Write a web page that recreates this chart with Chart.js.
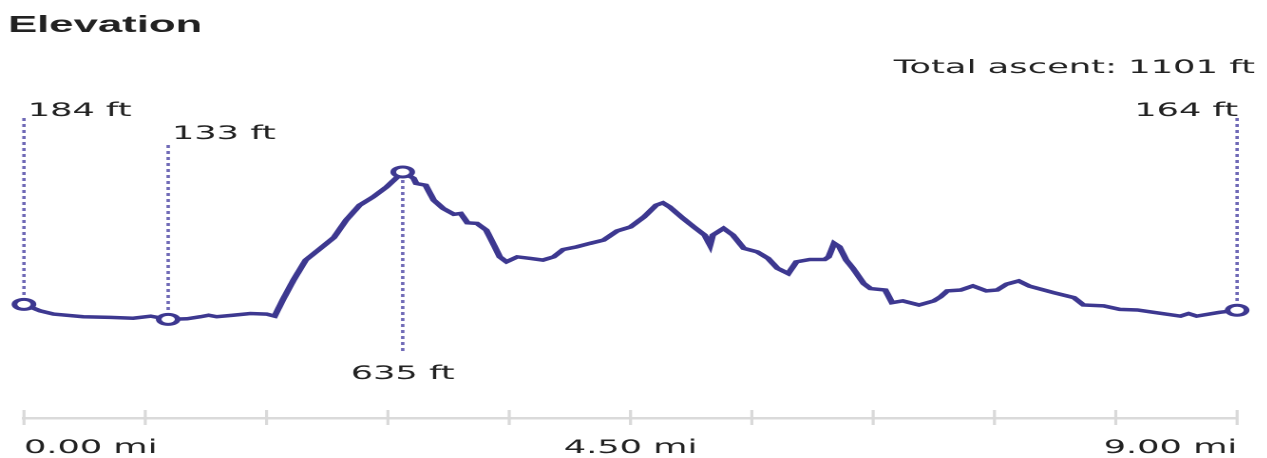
<!DOCTYPE html>
<html><head><meta charset="utf-8">
<script src="https://cdn.jsdelivr.net/npm/chart.js@4.4.1/dist/chart.umd.min.js"></script>
<style>
html,body{margin:0;padding:0;background:#fff;overflow:hidden;width:1267px;height:458px;}
#wrap{position:absolute;left:0;top:0;width:667px;height:458px;transform:scaleX(1.9);transform-origin:0 0;}
</style></head><body>
<div id="wrap"><canvas id="c"></canvas></div>
<script>
const titleText = 'Elevation';
const ascentText = 'Total ascent: 1101 ft';
const distanceMi = [0,0.12,0.22,0.44,0.64,0.81,0.94,1.07,1.21,1.31,
  1.37,1.43,1.55,1.68,1.80,1.86,1.92,2.00,2.09,2.20,
  2.30,2.39,2.49,2.59,2.69,2.81,2.89,2.91,2.98,3.04,
  3.11,3.19,3.24,3.29,3.36,3.43,3.48,3.53,3.58,3.66,
  3.75,3.85,3.93,4.00,4.10,4.20,4.30,4.40,4.50,4.60,
  4.69,4.74,4.79,4.89,4.97,5.05,5.09,5.11,5.19,5.26,
  5.34,5.44,5.52,5.59,5.67,5.73,5.83,5.94,5.97,6.01,
  6.05,6.10,6.15,6.23,6.28,6.39,6.44,6.52,6.64,6.75,
  6.80,6.85,6.95,7.04,7.14,7.22,7.29,7.38,7.46,7.64,
  7.79,7.86,8.01,8.13,8.26,8.38,8.58,8.64,8.70,8.87,9.00];
const elevationFt = [184,162,151,142,140,137,144,133,135,142,
  147,142,147,153,151,144,199,267,335,375,
  412,471,522,550,584,635,614,596,590,539,
  511,491,494,462,460,437,392,346,329,346,
  341,335,346,371,380,392,403,434,448,482,
  522,530,516,477,448,420,386,420,443,420,
  375,363,341,307,289,329,337,337,346,392,
  380,335,307,255,238,233,190,196,182,196,
  210,230,233,247,230,233,253,264,246,224,
  207,182,179,167,165,157,144,153,144,157,164];
const xTickLabelValues = [0, 4.5, 9];
const xTickStep = 0.9;

const lineColor = '#3d3890';
const dotColor = '#6f69b6';
const textColor = '#222';
const labelFont = '18.5px "DejaVu Sans"';

const lastIdx = elevationFt.length - 1;
let minIdx = 0, maxIdx = 0;
elevationFt.forEach((v, i) => { if (v < elevationFt[minIdx]) minIdx = i; if (v > elevationFt[maxIdx]) maxIdx = i; });
const marks = [
  {index: 0, align: 'left', labelY: 111, lineTop: 118},
  {index: minIdx, align: 'left', labelY: 134, lineTop: 145},
  {index: maxIdx, align: 'center', labelY: 374, below: true, lineBottom: 353},
  {index: lastIdx, align: 'right', labelY: 111, lineTop: 118}
];
const markSet = new Set(marks.map(m => m.index));

const markerPlugin = {
  id: 'markers',
  beforeDatasetsDraw(chart) {
    const ctx = chart.ctx;
    const meta = chart.getDatasetMeta(0);
    ctx.save();
    ctx.strokeStyle = dotColor;
    ctx.lineWidth = 1.8;
    ctx.setLineDash([3, 3]);
    marks.forEach(m => {
      const p = meta.data[m.index];
      ctx.beginPath();
      if (m.below) { ctx.moveTo(p.x, p.y + 8); ctx.lineTo(p.x, m.lineBottom); }
      else { ctx.moveTo(p.x, m.lineTop); ctx.lineTo(p.x, p.y - 7); }
      ctx.stroke();
    });
    ctx.restore();
  },
  afterDatasetsDraw(chart) {
    const ctx = chart.ctx;
    const meta = chart.getDatasetMeta(0);
    ctx.save();
    ctx.font = labelFont;
    ctx.fillStyle = textColor;
    ctx.textBaseline = 'middle';
    marks.forEach(m => {
      const p = meta.data[m.index];
      ctx.textAlign = m.align;
      let x = p.x;
      if (m.align === 'left') x += 2;
      if (m.align === 'right') x += 0.5;
      ctx.fillText(elevationFt[m.index] + ' ft', x, m.labelY);
    });
    ctx.restore();
  },
  afterDraw(chart) {
    const ctx = chart.ctx;
    const xs = chart.scales.x;
    const b = chart.chartArea.bottom;
    ctx.save();
    ctx.strokeStyle = '#d9d9d9';
    ctx.lineWidth = 1.6;
    xs.ticks.forEach(t => {
      const px = xs.getPixelForValue(t.value);
      ctx.beginPath();
      ctx.moveTo(px, b - 8);
      ctx.lineTo(px, b + 7);
      ctx.stroke();
    });
    ctx.restore();
  }
};

new Chart(document.getElementById('c'), {
  type: 'line',
  data: {
    datasets: [{
      data: distanceMi.map((d, i) => ({x: d, y: elevationFt[i]})),
      borderColor: lineColor,
      borderWidth: 3.5,
      tension: 0,
      fill: false,
      clip: false,
      pointRadius: ctx => markSet.has(ctx.dataIndex) ? 5 : 0,
      pointBorderWidth: 3,
      pointBorderColor: lineColor,
      pointBackgroundColor: '#fff',
      yAxisID: 'y'
    }]
  },
  plugins: [markerPlugin],
  options: {
    responsive: true,
    maintainAspectRatio: false,
    devicePixelRatio: 2,
    animation: false,
    events: [],
    layout: {padding: {left: 4.2, right: 6.5, top: 0, bottom: 0}},
    plugins: {
      legend: {display: false},
      tooltip: {enabled: false},
      title: {display: true, text: titleText, align: 'start', color: textColor,
        font: {family: '"Liberation Sans", Arial, sans-serif', size: 23, weight: 'bold', lineHeight: 1.2},
        padding: {top: 11.7, bottom: 0}},
      subtitle: {display: true, text: ascentText, align: 'end', color: textColor,
        font: {family: '"DejaVu Sans"', size: 18.6, lineHeight: 1.2},
        padding: {top: 17.6, bottom: 11.2}}
    },
    scales: {
      x: {
        type: 'linear', min: 0, max: 9,
        grid: {display: true, drawOnChartArea: false, drawTicks: true, tickLength: 17, color: 'rgba(0,0,0,0)'},
        border: {display: true, color: '#dadada', width: 2.5},
        ticks: {
          stepSize: xTickStep, autoSkip: false, maxRotation: 0, align: 'inner', padding: 2,
          color: textColor, font: {family: '"DejaVu Sans"', size: 18.5, lineHeight: 1.2},
          callback: v => xTickLabelValues.some(t => Math.abs(t - v) < 1e-6) ? v.toFixed(2) + ' mi' : ''
        },
        afterFit: s => { s.height = 40; }
      },
      y: {
        type: 'linear', position: 'left', min: -203, max: 913,
        grid: {display: false, drawTicks: false}, border: {display: false}, ticks: {display: false},
        afterFit: s => { s.width = 8.4; }
      },
      yR: {
        type: 'linear', position: 'right', min: 0, max: 1,
        grid: {display: false, drawTicks: false}, border: {display: false}, ticks: {display: false},
        afterFit: s => { s.width = 9.4; }
      }
    }
  }
});
</script>
</body></html>
